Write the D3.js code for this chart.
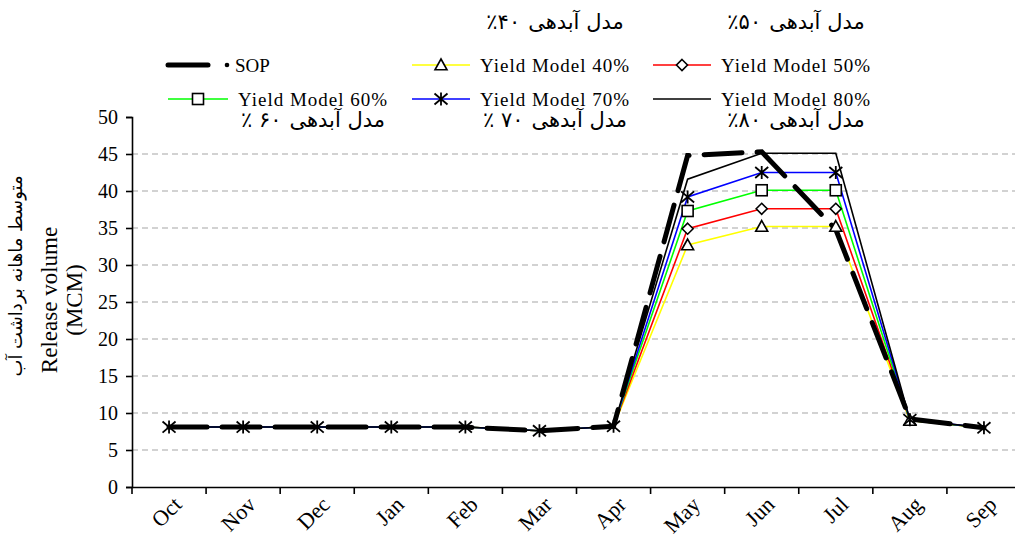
<!DOCTYPE html>
<html>
<head>
<meta charset="utf-8">
<script src="https://cdn.jsdelivr.net/npm/d3@7"></script>
<style>
  html, body { margin: 0; padding: 0; background: #fff; }
  svg { display: block; }
  .serif { font-family: "Liberation Serif", "DejaVu Serif", serif; }
  .fa { font-family: "DejaVu Sans", "Noto Sans", sans-serif; }
</style>
</head>
<body>
<script>
// ---------------- data ----------------
const months = ["Oct","Nov","Dec","Jan","Feb","Mar","Apr","May","Jun","Jul","Aug","Sep"];
const yTicks = [0,5,10,15,20,25,30,35,40,45,50];
const sop     = [8.1,8.1,8.1,8.1,8.1,7.6,8.2,44.8,45.3,34.8,9.2,8.0];
const yield40 = [8.1,8.1,8.1,8.1,8.1,7.6,8.2,32.7,35.2,35.2,9.0,8.0];
const yield50 = [8.1,8.1,8.1,8.1,8.1,7.6,8.2,34.9,37.6,37.6,9.0,8.0];
const yield60 = [8.1,8.1,8.1,8.1,8.1,7.6,8.2,37.3,40.1,40.1,9.0,8.0];
const yield70 = [8.1,8.1,8.1,8.1,8.1,7.6,8.2,39.2,42.5,42.5,9.1,8.0];
const yield80 = [8.1,8.1,8.1,8.1,8.1,7.6,8.2,41.6,45.1,45.1,9.1,8.0];
const seriesNames = ["SOP","Yield Model 40%","Yield Model 50%","Yield Model 60%","Yield Model 70%","Yield Model 80%"];
const faWords = "مدل آبدهی";
const faPercents = ["", "٪۴۰", "٪۵۰", "٪ ۶۰", "٪ ۷۰", "٪۸۰"];
const yTitle = "Release volume";
const yUnit = "(MCM)";
const yTitleFa = "متوسط ماهانه برداشت آب";
// months on which each series shows its marker
const markerMonths40 = ["May","Jun","Jul","Aug"];
const markerMonths50 = ["May","Jun","Jul"];
const markerMonths60 = ["May","Jun","Jul"];
const markerMonths70 = months;

// ---------------- chart ----------------
const W = 1015, H = 539;
const svg = d3.select("body").append("svg").attr("width", W).attr("height", H);

const x = d3.scaleBand().domain(months).range([132, 1021]);
const y = d3.scaleLinear().domain([0, 50]).range([487, 117]);
const cx = m => x(m) + x.bandwidth() / 2;

// gridlines
svg.append("g").selectAll("line").data(yTicks.filter(t => t > 0 && t < 50)).join("line")
  .attr("x1", 132).attr("x2", W).attr("y1", d => y(d)).attr("y2", d => y(d))
  .attr("stroke", "#c4c4c4").attr("stroke-width", 1.6).attr("stroke-dasharray", "6,4");

// y axis
const yAxis = svg.append("g").attr("transform", "translate(132,0)")
  .call(d3.axisLeft(y).tickValues(yTicks).tickSize(6).tickPadding(8));
yAxis.select(".domain").attr("stroke", "#000").attr("stroke-width", 1.6);
yAxis.selectAll(".tick line").attr("stroke", "#000").attr("stroke-width", 1.6);
yAxis.selectAll("text").attr("class", "serif").attr("font-size", 20).attr("fill", "#000").attr("dy", "0.33em");

// x axis
const xAxis = svg.append("g").attr("transform", "translate(0,487)")
  .call(d3.axisBottom(x).tickSize(0).tickFormat(""));
xAxis.select(".domain").attr("stroke", "#000").attr("stroke-width", 1.6);
const boundaries = months.map(m => x(m));
svg.append("g").selectAll("line").data(boundaries).join("line")
  .attr("x1", d => d).attr("x2", d => d).attr("y1", 487).attr("y2", 494)
  .attr("stroke", "#000").attr("stroke-width", 1.6);
svg.append("g").selectAll("text").data(months).join("text")
  .attr("class", "serif").attr("font-size", 22).attr("text-anchor", "end")
  .attr("transform", d => `translate(${cx(d) + 14},${506}) rotate(-45)`)
  .text(d => d);

// y titles
svg.append("text").attr("class", "serif").attr("font-size", 23).attr("text-anchor", "middle")
  .attr("transform", "translate(57,300) rotate(-90)").text(yTitle);
svg.append("text").attr("class", "serif").attr("font-size", 23).attr("text-anchor", "middle")
  .attr("transform", "translate(82,300) rotate(-90)").text(yUnit);
svg.append("text").attr("class", "fa").attr("font-size", 18).attr("text-anchor", "middle")
  .attr("direction", "rtl")
  .attr("transform", "translate(22,276) rotate(-90)").text(yTitleFa);

// lines
const line = d3.line().x((d, i) => cx(months[i])).y(d => y(d));
const modelSeries = [
  {vals: yield40, color: "#ffff00", marker: "tri", mm: markerMonths40},
  {vals: yield50, color: "#ff0000", marker: "dia", mm: markerMonths50},
  {vals: yield60, color: "#00ff00", marker: "sq", mm: markerMonths60},
  {vals: yield70, color: "#0000ff", marker: "ast", mm: markerMonths70},
  {vals: yield80, color: "#000000", marker: null, mm: []}
];
const gLines = svg.append("g");
modelSeries.forEach(s => {
  gLines.append("path").attr("d", line(s.vals)).attr("fill", "none")
    .attr("stroke", s.color).attr("stroke-width", 1.6).attr("stroke-linejoin", "miter");
});
svg.append("path").attr("d", line(sop)).attr("fill", "none")
  .attr("stroke", "#000").attr("stroke-width", 5).attr("stroke-dasharray", "38,15")
  .attr("stroke-linecap", "round");

function drawMarker(g, type, px, py) {
  if (type === "tri") {
    const s = 6;
    g.append("path").attr("d", `M${px},${py - s}L${px + s},${py + s * 0.8}L${px - s},${py + s * 0.8}Z`)
      .attr("fill", "#fff").attr("stroke", "#000").attr("stroke-width", 1.6);
  } else if (type === "dia") {
    const s = 5.5;
    g.append("path").attr("d", `M${px},${py - s}L${px + s},${py}L${px},${py + s}L${px - s},${py}Z`)
      .attr("fill", "#fff").attr("stroke", "#000").attr("stroke-width", 1.6);
  } else if (type === "sq") {
    const s = 5.5;
    g.append("rect").attr("x", px - s).attr("y", py - s).attr("width", 2 * s).attr("height", 2 * s)
      .attr("fill", "#fff").attr("stroke", "#000").attr("stroke-width", 1.6);
  } else if (type === "ast") {
    const s = 6.5;
    g.append("path").attr("d",
      `M${px},${py - s}L${px},${py + s}M${px - s},${py - s * 0.85}L${px + s},${py + s * 0.85}M${px - s},${py + s * 0.85}L${px + s},${py - s * 0.85}`)
      .attr("stroke", "#000").attr("stroke-width", 1.8).attr("fill", "none");
  }
}
const gMarkers = svg.append("g");
modelSeries.forEach(s => {
  if (!s.marker) return;
  months.forEach((m, i) => {
    if (s.mm.includes(m)) drawMarker(gMarkers, s.marker, cx(m), y(s.vals[i]));
  });
});

// persian caption: visual order [percent][number]  [words]
function faCaption(g, centerX, baseY, pct) {
  const cg = g.append("g");
  const num = cg.append("text").attr("class", "fa").attr("font-size", 21)
    .attr("direction", "ltr").attr("unicode-bidi", "bidi-override").attr("y", baseY).text(pct);
  const words = cg.append("text").attr("class", "fa").attr("font-size", 21)
    .attr("direction", "rtl").attr("text-anchor", "end").attr("y", baseY).text(faWords);
  const nw = num.node().getComputedTextLength();
  const ww = words.node().getComputedTextLength();
  const gap = 8;
  const total = nw + gap + ww;
  const left = centerX - total / 2;
  num.attr("x", left);
  words.attr("x", left + nw + gap);
}

// legend
const lg = svg.append("g");
const legendItems = [
  {x: 168, y: 65, len: 40, name: seriesNames[0], sop: true},
  {x: 412, y: 65, len: 58, name: seriesNames[1], color: "#ffff00", marker: "tri", fa: faPercents[1], faY: 29},
  {x: 653, y: 65, len: 58, name: seriesNames[2], color: "#ff0000", marker: "dia", fa: faPercents[2], faY: 29},
  {x: 168, y: 99, len: 60, name: seriesNames[3], color: "#00ff00", marker: "sq", fa: faPercents[3], faY: 127},
  {x: 412, y: 99, len: 58, name: seriesNames[4], color: "#0000ff", marker: "ast", fa: faPercents[4], faY: 127},
  {x: 653, y: 99, len: 58, name: seriesNames[5], color: "#000000", marker: null, fa: faPercents[5], faY: 127}
];
legendItems.forEach(it => {
  if (it.sop) {
    lg.append("line").attr("x1", it.x).attr("x2", it.x + it.len).attr("y1", it.y).attr("y2", it.y)
      .attr("stroke", "#000").attr("stroke-width", 5).attr("stroke-linecap", "round");
    lg.append("circle").attr("cx", it.x + 59).attr("cy", it.y).attr("r", 2.3).attr("fill", "#000");
    lg.append("text").attr("class", "serif").attr("font-size", 19).attr("x", 235).attr("y", it.y + 6.5)
      .text(it.name);
    return;
  }
  lg.append("line").attr("x1", it.x).attr("x2", it.x + it.len).attr("y1", it.y).attr("y2", it.y)
    .attr("stroke", it.color).attr("stroke-width", 1.6);
  if (it.marker) drawMarker(lg, it.marker, it.x + it.len / 2, it.y);
  const tx = it.x + it.len + 10;
  lg.append("text").attr("class", "serif").attr("font-size", 19).attr("letter-spacing", "1px")
    .attr("x", tx).attr("y", it.y + 6.5).text(it.name);
  faCaption(lg, tx + 75, it.faY, it.fa);
});
</script>
</body>
</html>
